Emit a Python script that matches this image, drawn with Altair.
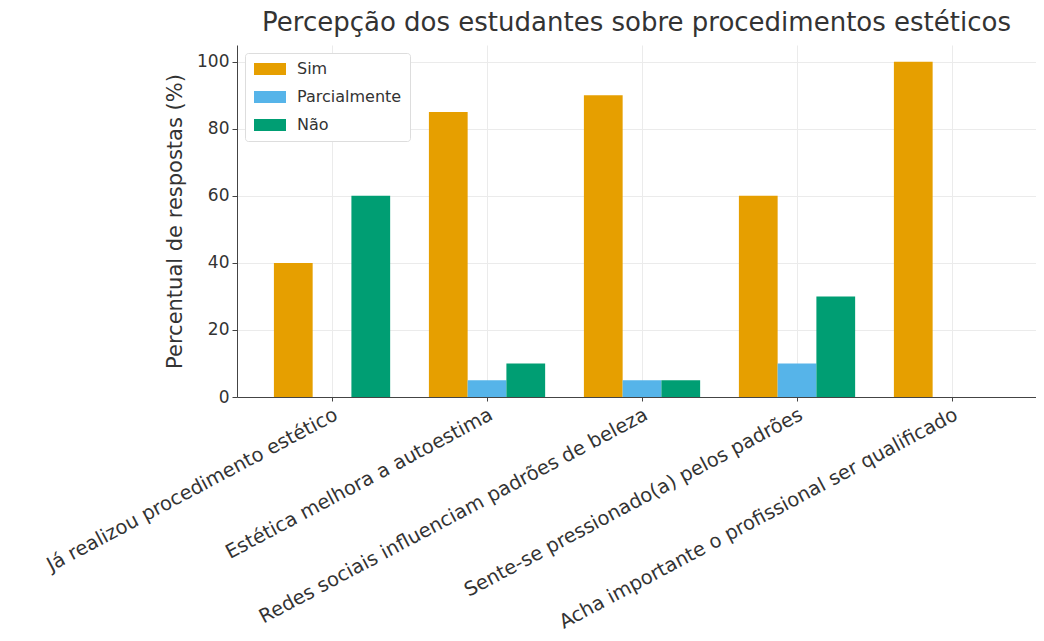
import altair as alt
import pandas as pd

categories = [
    "Já realizou procedimento estético",
    "Estética melhora a autoestima",
    "Redes sociais influenciam padrões de beleza",
    "Sente-se pressionado(a) pelos padrões",
    "Acha importante o profissional ser qualificado",
]
series = ["Sim", "Parcialmente", "Não"]
sim = [40, 85, 90, 60, 100]
parcial = [0, 5, 5, 10, 0]
nao = [60, 10, 5, 30, 0]
colors = ["#E69F00", "#56B4E9", "#009E73"]
y_ticks = [0, 20, 40, 60, 80, 100]

rows = []
for i, c in enumerate(categories):
    for s, vals in zip(series, [sim, parcial, nao]):
        rows.append({"cat": c, "serie": s, "valor": vals[i]})
df = pd.DataFrame(rows)

FONT = "DejaVu Sans"
TXT = "#333333"

chart = alt.Chart(df).mark_bar().encode(
    x=alt.X(
        "cat:N",
        sort=categories,
        scale=alt.Scale(paddingInner=0.25, paddingOuter=0.2025, align=0.588),
        axis=alt.Axis(
            title=None,
            labelAngle=-28,
            labelAlign="right",
            labelBaseline="top",
            labelFontSize=19.5,
            labelPadding=4,
            bandPosition=0.5,
            grid=True,
            gridColor="#ebebeb",
            tickSize=4,
            tickColor="#444444",
            domainColor="#444444",
            labelColor=TXT,
            labelLimit=700,
        ),
    ),
    xOffset=alt.XOffset("serie:N", sort=series, scale=alt.Scale(paddingInner=0, paddingOuter=0)),
    y=alt.Y(
        "valor:Q",
        scale=alt.Scale(domain=[0, 105], nice=False),
        axis=alt.Axis(
            values=y_ticks,
            title="Percentual de respostas (%)",
            titleFontSize=21,
            titleFontWeight="normal",
            titleColor=TXT,
            titlePadding=11,
            labelFontSize=17,
            labelColor=TXT,
            labelPadding=3,
            grid=True,
            gridColor="#ebebeb",
            tickSize=5,
            tickColor="#444444",
            domainColor="#444444",
        ),
    ),
    color=alt.Color(
        "serie:N",
        sort=series,
        scale=alt.Scale(domain=series, range=colors),
        legend=alt.Legend(
            title=None,
            orient="top-left",
            offset=8,
            symbolType="M-1.4,-1.2L5,-1.2L5,1.2L-1.4,1.2Z",
            symbolSize=100,
            symbolStrokeWidth=0,
            labelFontSize=16,
            labelColor=TXT,
            labelOffset=28,
            rowPadding=12,
            padding=8,
            strokeColor="#dddddd",
            fillColor="white",
            cornerRadius=3,
        ),
    ),
).properties(
    width=799,
    height=352,
    title=alt.TitleParams(
        "Percepção dos estudantes sobre procedimentos estéticos",
        fontSize=26,
        fontWeight="normal",
        color=TXT,
        anchor="middle",
        offset=9,
    ),
    autosize=alt.AutoSizeParams(type="none"),
    padding={"left": 229, "top": 37, "right": 0, "bottom": 236},
).configure(font=FONT).configure_view(stroke=None)

chart.save("out.html", embed_options={"renderer": "svg", "actions": False})
